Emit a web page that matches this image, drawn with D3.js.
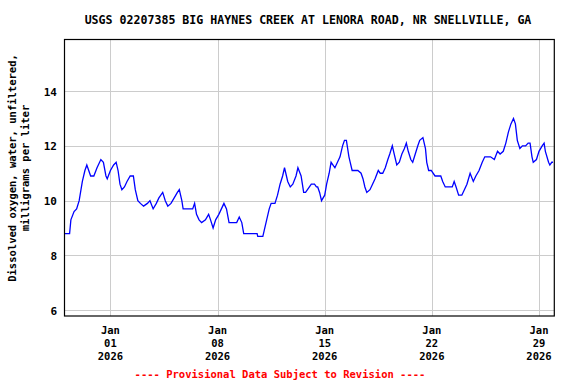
<!DOCTYPE html>
<html><head><meta charset="utf-8">
<script src="https://cdn.jsdelivr.net/npm/d3@7"></script>
<style>
html,body{margin:0;padding:0;background:#fff;}
text{font-family:"DejaVu Sans Mono",monospace;font-weight:bold;}
</style></head>
<body><svg id="chart" width="576" height="384"></svg>
<script>
const TITLE = "USGS 02207385 BIG HAYNES CREEK AT LENORA ROAD, NR SNELLVILLE, GA";
const Y_LABEL = ["Dissolved oxygen, water, unfiltered,", "milligrams per liter"];
const FOOTER = "---- Provisional Data Subject to Revision ----";
const START = "2025-12-29T00:00:00";
const END = "2026-01-30T00:00:00";
const yTicks = [6, 8, 10, 12, 14];
const xTickDates = ["2026-01-01", "2026-01-08", "2026-01-15", "2026-01-22", "2026-01-29"];
// hours since START
const hours = [0,8,10,15,19,23,28,32,35,41,46,51,57,61,65,67,72,77,81,84,87,90,94,98,103,108,111,115,119,124,130,134,139,144,148,154,158,162,167,172,177,180,184,186,201,204,207,211,215,221,226,229,233,237,242,248,250,254,258,261,270,274,278,281,284,302,303,311,313,317,321,324,330,334,338,342,345,350,354,358,363,366,371,375,378,384,387,392,395,397,400,403,408,411,415,418,424,428,432,436,439,442,446,448,451,460,465,468,471,474,479,483,487,492,495,499,503,507,510,514,517,521,525,529,533,536,539,543,546,550,554,557,562,566,568,571,575,581,590,593,597,608,611,614,618,623,627,631,636,641,645,650,655,659,668,674,679,683,688,692,696,700,704,707,710,714,718,723,727,730,733,735,740,744,749,752,754,759,761,764,766];
const values = [8.8,8.8,9.3,9.6,9.7,10.0,10.7,11.1,11.3,10.9,10.9,11.2,11.5,11.4,10.9,10.8,11.1,11.3,11.4,11.1,10.6,10.4,10.5,10.7,10.9,10.9,10.4,10.0,9.9,9.8,9.9,10.0,9.7,9.9,10.1,10.3,10.0,9.8,9.9,10.1,10.3,10.4,10.0,9.7,9.7,9.9,9.5,9.3,9.2,9.3,9.5,9.3,9.0,9.3,9.5,9.8,9.9,9.7,9.2,9.2,9.2,9.4,9.2,8.8,8.8,8.8,8.7,8.7,8.9,9.3,9.7,9.9,9.9,10.2,10.6,10.9,11.2,10.7,10.5,10.6,10.9,11.2,10.9,10.3,10.3,10.5,10.6,10.6,10.5,10.5,10.3,10.0,10.2,10.6,11.0,11.4,11.2,11.4,11.6,12.0,12.2,12.2,11.6,11.4,11.1,11.1,11.0,10.8,10.5,10.3,10.4,10.6,10.8,11.1,11.0,11.0,11.2,11.5,11.7,12.0,11.7,11.3,11.4,11.7,11.9,12.1,11.8,11.5,11.4,11.7,12.0,12.2,12.3,11.9,11.4,11.1,11.1,10.9,10.9,10.7,10.5,10.5,10.7,10.5,10.2,10.2,10.4,10.6,11.0,10.7,10.9,11.1,11.4,11.6,11.6,11.5,11.8,11.7,11.8,12.1,12.5,12.8,13.0,12.8,12.2,11.9,12.0,12.0,12.1,12.1,11.6,11.4,11.5,11.8,12.0,12.1,11.8,11.4,11.3,11.4,11.4];

const svg = d3.select("#chart");
const L = 64.5, R = 554.3, T = 39.5, B = 316;
const start = new Date(START), end = new Date(END);
const x = d3.scaleTime().domain([start, end]).range([L, R]);
const y = d3.scaleLinear().domain([6, 14]).range([310.3, 91]);

const data = hours.map((h, i) => ({t: d3.timeHour.offset(start, h), v: values[i]}));
const xt = xTickDates.map(s => new Date(s + "T00:00:00"));

// grid
svg.append("g").selectAll("line").data(yTicks).join("line")
  .attr("x1", L).attr("x2", R).attr("y1", d => Math.round(y(d)) + 0.5).attr("y2", d => Math.round(y(d)) + 0.5)
  .attr("stroke", "#cccccc").attr("stroke-width", 1);
svg.append("g").selectAll("line").data(xt).join("line")
  .attr("y1", T).attr("y2", B).attr("x1", d => Math.round(x(d)) + 0.5).attr("x2", d => Math.round(x(d)) + 0.5)
  .attr("stroke", "#cccccc").attr("stroke-width", 1);

// line
svg.append("path").datum(data)
  .attr("fill", "none").attr("stroke", "#0000ff").attr("stroke-width", 1.3)
  .attr("stroke-linejoin", "miter")
  .attr("d", d3.line().x(d => x(d.t)).y(d => y(d.v)).curve(d3.curveLinear));

// frame
svg.append("rect").attr("x", L).attr("y", T).attr("width", R - L).attr("height", B - T)
  .attr("fill", "none").attr("stroke", "#000").attr("stroke-width", 1.2);

// y tick labels
svg.append("g").selectAll("text").data(yTicks).join("text")
  .attr("x", 57).attr("y", d => y(d) + 4.5).attr("text-anchor", "end")
  .attr("font-size", "11px").text(d => d);

// x tick labels
const fmtM = d3.timeFormat("%b"), fmtD = d3.timeFormat("%d"), fmtY = d3.timeFormat("%Y");
const xg = svg.append("g").selectAll("g").data(xt).join("g");
xg.append("text").attr("x", d => x(d)).attr("y", 334).attr("text-anchor", "middle").attr("font-size", "10.5px").text(fmtM);
xg.append("text").attr("x", d => x(d)).attr("y", 347).attr("text-anchor", "middle").attr("font-size", "10.5px").text(fmtD);
xg.append("text").attr("x", d => x(d)).attr("y", 360).attr("text-anchor", "middle").attr("font-size", "10.5px").text(fmtY);

// title
svg.append("text").attr("x", 308).attr("y", 24).attr("text-anchor", "middle")
  .attr("font-size", "11.6px").text(TITLE);

// y label
const yl = svg.append("text").attr("transform", "translate(0,168) rotate(-90)").attr("text-anchor", "middle").attr("font-size", "10.5px");
yl.append("tspan").attr("x", 0).attr("y", 15.5).text(Y_LABEL[0]);
yl.append("tspan").attr("x", 0).attr("y", 29).text(Y_LABEL[1]);

// footer
svg.append("text").attr("x", 280).attr("y", 378).attr("text-anchor", "middle")
  .attr("font-size", "10.5px").attr("fill", "#ff0000").text(FOOTER);
</script></body></html>
